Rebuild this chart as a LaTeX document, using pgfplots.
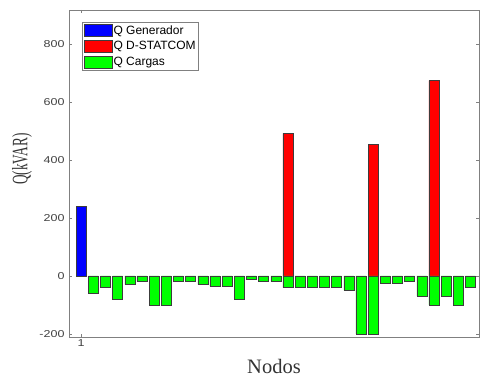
\documentclass[border=0pt]{standalone}
\usepackage{fontspec}
\usepackage{pgfplots}
\pgfplotsset{compat=1.18}
\newfontfamily\arialf{Liberation Sans}
\newfontfamily\seriff{Liberation Serif}
\definecolor{axgray}{RGB}{128,128,128}
\definecolor{edgegray}{RGB}{60,60,60}
\begin{document}
\begin{tikzpicture}
\begin{axis}[
  scale only axis,
  width=410pt, height=327pt,
  xmin=0, xmax=33.7,
  ymin=-211, ymax=919,
  ybar, bar width=10pt,
  xtick={1}, xticklabels={1},
  ytick={-200,0,200,400,600,800},
  tick align=inside,
  major tick length=3pt,
  axis line style={axgray, line width=0.6pt},
  tick style={axgray, line width=0.6pt},
  /pgf/number format/assume math mode=true,
  ticklabel style={font=\arialf\fontsize{12.5}{14}\selectfont, text=black!75, yscale=0.8},
  yticklabel style={xshift=-1pt},
  xlabel={\seriff\fontsize{20.5}{22}\selectfont Nodos},
  xlabel style={at={(axis description cs:0.5,-0.091)}, anchor=center, text=black!80, inner sep=0pt},
  ylabel={\scalebox{0.6}[1]{\seriff\fontsize{22}{24}\selectfont Q(kVAR)}},
  ylabel style={at={(axis description cs:-0.1146,0.544)}, anchor=center, text=black!80, inner sep=0pt},
  legend cell align=left,
  legend image code/.code={\draw[#1, bar shift=0pt] (0pt,-5.8pt) rectangle (28pt,5.8pt);},
  legend style={at={(axis description cs:0.031,0.963)}, anchor=north west,
    draw=axgray, line width=0.6pt, font=\arialf\fontsize{12}{13}\selectfont,
    inner sep=1.5pt, row sep=3pt,
    nodes={inner sep=1.5pt}},
]
\addplot[bar shift=0pt, fill={rgb,255:red,0;green,0;blue,255}, draw=edgegray, line width=0.5pt]
  coordinates {(1,240)};
\addlegendentry{Q Generador}
\addplot[bar shift=0pt, fill={rgb,255:red,255;green,0;blue,0}, draw=edgegray, line width=0.5pt]
  coordinates {(18,493) (25,454) (30,675)};
\addlegendentry{Q D-STATCOM}
\addplot[bar shift=0pt, fill={rgb,255:red,0;green,255;blue,0}, draw=edgegray, line width=0.5pt]
  coordinates {(2,-60) (3,-40) (4,-80) (5,-30) (6,-20) (7,-100) (8,-100) (9,-20)
    (10,-20) (11,-30) (12,-35) (13,-35) (14,-80) (15,-10) (16,-20) (17,-20)
    (18,-40) (19,-40) (20,-40) (21,-40) (22,-40) (23,-50) (24,-200) (25,-200)
    (26,-25) (27,-25) (28,-20) (29,-70) (30,-100) (31,-70) (32,-100) (33,-40)};
\addlegendentry{Q Cargas}
\end{axis}
\pgfresetboundingbox
\path (current axis.south west) ++(-69pt,-41pt) rectangle ([shift={(2pt,10pt)}]current axis.north east);
\end{tikzpicture}
\end{document}
